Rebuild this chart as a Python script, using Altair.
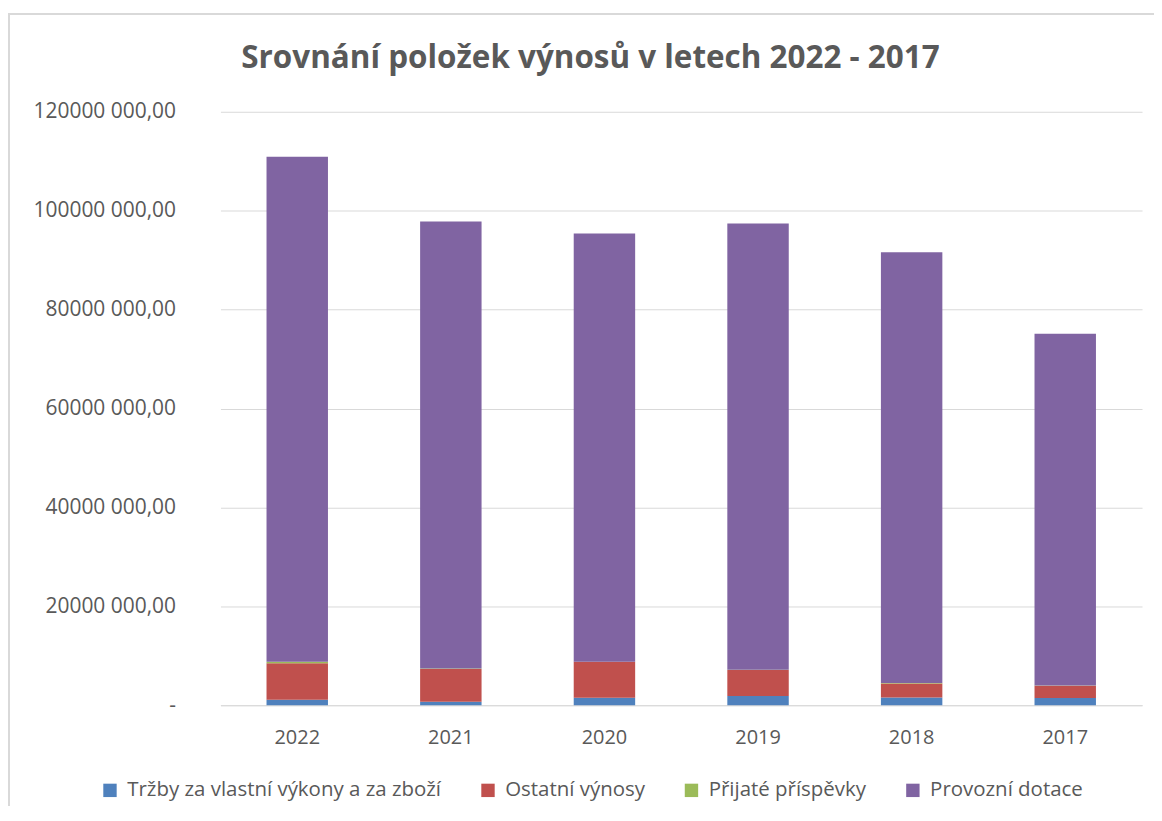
import altair as alt
import pandas as pd

years = ["2022", "2021", "2020", "2019", "2018", "2017"]
series = ["Tržby za vlastní výkony a za zboží", "Ostatní výnosy", "Přijaté příspěvky", "Provozní dotace"]
colors = ["#4F81BD", "#C0504D", "#9BBB59", "#8064A2"]
trzby = [1100000, 700000, 1500000, 1850000, 1570000, 1450000]
ostatni = [7400000, 6600000, 7270000, 5250000, 2830000, 2480000]
prijate = [300000, 100000, 0, 50000, 100000, 50000]
dotace = [102100000, 90400000, 86630000, 90250000, 87100000, 71120000]
title_text = "Srovnání položek výnosů v letech 2022 - 2017"

rows = []
for vals, name, idx in [(trzby, series[0], 0), (ostatni, series[1], 1), (prijate, series[2], 2), (dotace, series[3], 3)]:
    for y, v in zip(years, vals):
        rows.append({"rok": y, "polozka": name, "hodnota": v, "poradi": idx})
df = pd.DataFrame(rows)
one = pd.DataFrame({"t": [title_text]})

FONT = "Open Sans"
GRAY = "#595959"

bars = alt.Chart(df).mark_bar().encode(
    x=alt.X("rok:N", sort=years, title=None,
            scale=alt.Scale(paddingInner=0.6, paddingOuter=0.3),
            axis=alt.Axis(labelAngle=0, ticks=False, labelPadding=22, labelFontSize=20,
                          labelColor=GRAY, labelFont=FONT, domainColor="#d9d9d9", domainWidth=1)),
    y=alt.Y("hodnota:Q", stack="zero", title=None,
            scale=alt.Scale(domain=[0, 120000000]),
            axis=alt.Axis(values=[0, 20000000, 40000000, 60000000, 80000000, 100000000, 120000000],
                          labelExpr="datum.value == 0 ? '-' : format(datum.value/1000, 'd') + ' 000,00'",
                          labelFontSize=21, labelColor=GRAY, labelFont=FONT, labelPadding=45,
                          ticks=False, domain=False, gridColor="#d9d9d9", gridWidth=1)),
    color=alt.Color("polozka:N", sort=series, title=None,
                    scale=alt.Scale(domain=series, range=colors),
                    legend=alt.Legend(orient="none", direction="horizontal", legendX=-121, legendY=670,
                                      symbolType="square", symbolSize=180, symbolStrokeWidth=0,
                                      labelFontSize=20.5, labelColor=GRAY, labelFont=FONT, labelLimit=0,
                                      columnPadding=36, labelOffset=7)),
    order=alt.Order("poradi:Q", sort="ascending"),
)

frame_top = alt.Chart(one).mark_rule(color="#d9d9d9", strokeWidth=2).encode(
    x=alt.value(-213), x2=alt.value(941), y=alt.value(-98))
frame_left = alt.Chart(one).mark_rule(color="#d9d9d9", strokeWidth=2).encode(
    x=alt.value(-212), y=alt.value(-98), y2=alt.value(700))
title = alt.Chart(one).mark_text(fontSize=31.5, font=FONT, fontWeight="bold", color=GRAY,
                                 align="center", baseline="middle").encode(
    x=alt.value(371), y=alt.value(-53), text="t:N")

chart = alt.layer(frame_top, frame_left, title, bars).properties(
    width=924, height=595,
    padding={"left": 213, "top": 103, "right": 12, "bottom": 100},
    autosize=alt.AutoSizeParams(type="none"),
).configure_view(stroke=None)

chart.save("out.html", embed_options={"renderer": "svg", "actions": False})
